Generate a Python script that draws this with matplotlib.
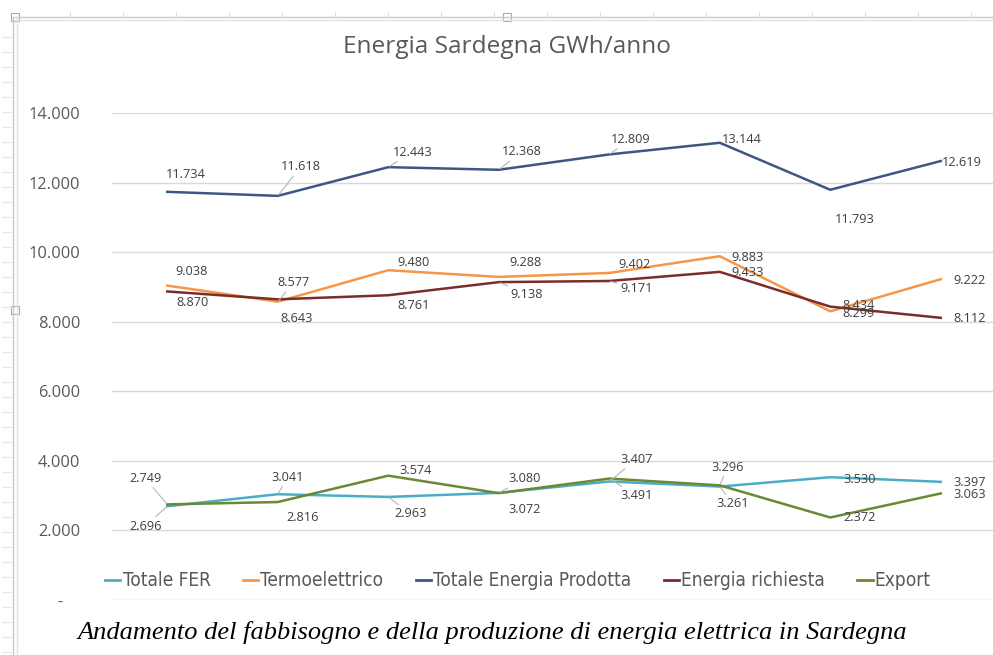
import numpy as np
import matplotlib
matplotlib.use('Agg')
from matplotlib import pyplot as plt
from matplotlib.lines import Line2D
from matplotlib.patches import Rectangle
from matplotlib.ticker import FuncFormatter

# values (GWh/anno), 8 years, no x labels shown
totale_fer = [2696, 3041, 2963, 3080, 3407, 3261, 3530, 3397]
termoelettrico = [9038, 8577, 9480, 9288, 9402, 9883, 8299, 9222]
totale_prodotta = [11734, 11618, 12443, 12368, 12809, 13144, 11793, 12619]
energia_richiesta = [8870, 8643, 8761, 9138, 9171, 9433, 8434, 8112]
export = [2749, 2816, 3574, 3072, 3491, 3296, 2372, 3063]

series_names = ['Totale FER', 'Termoelettrico', 'Totale Energia Prodotta',
                'Energia richiesta', 'Export']
colors = ['#4BACC6', '#F79646', '#3D5683', '#7B2C2C', '#6A8934']

# label offsets in pixels (dx, dy with y up) and whether a leader line is drawn
label_offsets = {
    'Totale FER': [(-22, -20, 1), (10, 17, 1), (22, -17, 1), (26, 14, 1),
                   (27, 22, 1), (13, -17, 1), (29, -2, 0), (29, -1, 0)],
    'Termoelettrico': [(24, 14, 0), (16, 19, 1), (25, 8, 0), (27, 14, 0),
                       (25, 8, 0), (28, -1, 0), (28, -2, 0), (29, -1, 0)],
    'Totale Energia Prodotta': [(19, 17, 0), (23, 29, 1), (24, 15, 1), (23, 18, 1),
                                (21, 15, 1), (22, 3, 0), (25, -30, 0), (21, -1, 0)],
    'Energia richiesta': [(25, -11, 0), (19, -19, 0), (25, -10, 0), (28, -12, 1),
                          (27, -8, 1), (28, -1, 0), (28, 1, 0), (29, -1, 0)],
    'Export': [(-22, 26, 1), (25, -15, 0), (27, 5, 0), (26, -16, 0),
               (27, -17, 1), (8, 18, 1), (29, 0, 0), (29, -1, 0)],
}

data = [totale_fer, termoelettrico, totale_prodotta, energia_richiesta, export]

W, H = 993, 655
fig = plt.figure(figsize=(W / 100, H / 100), dpi=100)
fig.patch.set_facecolor('white')

# plot area: x 112..996 px, y 113..600 px (from top)
ax = fig.add_axes([112 / W, 55 / H, 884 / W, 487 / H])
x = np.arange(len(totale_fer))

for name, vals, col in zip(series_names, data, colors):
    ax.plot(x, vals, color=col, lw=1.8, label=name, solid_joinstyle='round', zorder=3)
    for i, v in enumerate(vals):
        dx, dy, lead = label_offsets[name][i]
        txt = f'{v / 1000:.3f}'
        kw = {}
        if lead:
            kw['arrowprops'] = dict(arrowstyle='-', color='#B5B5B5', lw=0.8,
                                    shrinkA=0, shrinkB=1)
        ax.annotate(txt, (i, v), xytext=(dx, dy), textcoords='offset pixels',
                    ha='center', va='center', fontsize=9.2, color='#3F3F3F',
                    family='Open Sans', zorder=4, **kw)

ax.set_xlim(-0.5, 7.5)
ax.set_ylim(0, 14000)
ax.set_yticks(np.arange(0, 14001, 2000))
ax.yaxis.set_major_formatter(FuncFormatter(
    lambda v, p: '-\u00a0\u00a0\u00a0\u00a0' if v == 0 else f'{int(v):,}'.replace(',', '.')))
ax.tick_params(axis='y', length=0, pad=23, labelsize=11.8, labelcolor='#595959')
for lbl in ax.get_yticklabels():
    lbl.set_family('Open Sans')
ax.set_xticks([])
ax.grid(axis='y', color='#D9D9D9', lw=1)
ax.set_axisbelow(True)
for s in ax.spines.values():
    s.set_visible(False)

fig.text(507 / W, 1 - 47 / H, 'Energia Sardegna GWh/anno', ha='center', va='center',
         fontsize=17.6, color='#595959', family='Open Sans')

handles = [Line2D([0], [0], color=c, lw=2) for c in colors]
leg = fig.legend(handles, series_names, loc='center', bbox_to_anchor=(518 / W, 1 - 581 / H),
                 ncol=5, frameon=False, handlelength=0.8, handletextpad=0.12,
                 columnspacing=1.7,
                 prop={'family': 'DejaVu Sans', 'stretch': 'condensed', 'size': 13.7})
for t in leg.get_texts():
    t.set_color('#595959')

fig.text(492 / W, 1 - 632 / H,
         'Andamento del fabbisogno e della produzione di energia elettrica in Sardegna',
         ha='center', va='center', fontsize=19, style='italic',
         family='Liberation Serif', color='black')

# spreadsheet frame around the chart object
frame = '#C9C9C9'
fig.add_artist(Line2D([15 / W, 1], [1 - 17 / H, 1 - 17 / H], color=frame, lw=1))
fig.add_artist(Line2D([15 / W, 1], [1 - 20 / H, 1 - 20 / H], color='#E3E3E3', lw=1))
fig.add_artist(Line2D([13 / W, 13 / W], [0, 1 - 17 / H], color=frame, lw=1))
fig.add_artist(Line2D([17 / W, 17 / W], [0, 1 - 17 / H], color='#E3E3E3', lw=1))
for xp in range(70, 993, 53):
    fig.add_artist(Line2D([xp / W, xp / W], [1 - 12 / H, 1 - 16 / H], color='#DDDDDD', lw=0.8))
for yp in range(37, 655, 15):
    fig.add_artist(Line2D([2 / W, 11 / W], [1 - yp / H, 1 - yp / H], color='#E6E6E6', lw=0.8))
for hx, hy in [(15, 17), (507, 17), (15, 310)]:
    fig.add_artist(Rectangle(((hx - 4) / W, 1 - (hy + 4) / H), 8 / W, 8 / H,
                             facecolor='white', edgecolor='#AAAAAA', lw=0.8))

fig.savefig('out.png', dpi=100)
